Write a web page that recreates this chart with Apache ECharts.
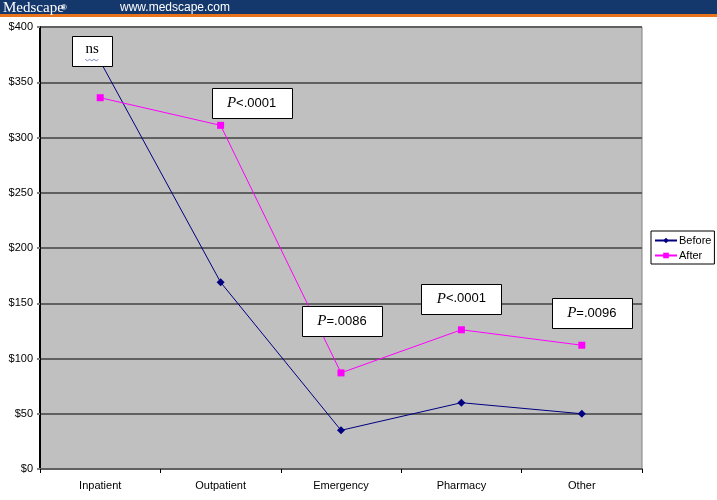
<!DOCTYPE html>
<html><head><meta charset="utf-8">
<script src="https://cdn.jsdelivr.net/npm/echarts@6/dist/echarts.min.js"></script>
<style>html,body{margin:0;padding:0;background:#fff}#c{width:717px;height:500px}</style>
</head><body><div id="c"></div>
<script>
var categories = ['Inpatient', 'Outpatient', 'Emergency', 'Pharmacy', 'Other'];
var beforeValues = [369, 169, 35, 60, 50];
var afterValues = [336, 311, 87, 126, 112];
var yTicks = [0, 50, 100, 150, 200, 250, 300, 350, 400];
// annotation: category index, value at box centre, label parts
var annCategory = [0, 1, 2, 3, 4];
var annValue = [378, 331, 134, 154, 141];
var annItalic = ['', 'P', 'P', 'P', 'P'];
var annRest = ['ns', '<.0001', '=.0086', '<.0001', '=.0096'];

var chart = echarts.init(document.getElementById('c'));
var option = {
  animation: false,
  backgroundColor: '#fff',
  grid: { left: 40, right: 75, top: 27, bottom: 31, show: true, backgroundColor: '#C0C0C0', borderColor: '#808080', borderWidth: 1 },
  xAxis: {
    type: 'category', data: categories, boundaryGap: true,
    axisLine: { lineStyle: { color: '#606060', width: 2 } },
    axisTick: { show: true, length: 4, inside: false, lineStyle: { color: '#000' } },
    axisLabel: { color: '#000', fontFamily: 'Liberation Sans', fontSize: 11, margin: 11 },
    splitLine: { show: false }
  },
  yAxis: {
    type: 'value', min: yTicks[0], max: yTicks[yTicks.length - 1], interval: 50,
    axisLine: { show: true, lineStyle: { color: '#000', width: 2 } },
    axisTick: { show: true, length: 3, lineStyle: { color: '#808080', width: 2 } },
    axisLabel: { color: '#000', fontFamily: 'Liberation Sans', fontSize: 11, margin: 7, formatter: function (v) { return '$' + v; } },
    splitLine: { show: true, lineStyle: { color: '#606060', width: 2 } }
  },
  legend: {
    orient: 'vertical', left: 651, top: 231,
    padding: [4, 3, 3, 3], itemGap: 4, itemWidth: 22, itemHeight: 7,
    borderColor: '#000', borderWidth: 1, backgroundColor: '#fff',
    textStyle: { color: '#000', fontFamily: 'Liberation Sans', fontSize: 11, padding: [0, 0, 0, -3] },
    data: ['Before', 'After']
  },
  series: [
    { name: 'Before', type: 'line', data: beforeValues, symbol: 'diamond', symbolSize: 8,
      lineStyle: { color: '#000080', width: 1 }, itemStyle: { color: '#000080' }, z: 3 },
    { name: 'After', type: 'line', data: afterValues, symbol: 'rect', symbolSize: 7,
      lineStyle: { color: '#FF00FF', width: 1 }, itemStyle: { color: '#FF00FF' }, z: 3 }
  ]
};
chart.setOption(option);

var graphics = [
  { type: 'rect', shape: { x: 0, y: 0, width: 717, height: 15 }, style: { fill: '#14386B' }, z: 10 },
  { type: 'rect', shape: { x: 0, y: 14, width: 717, height: 3 }, style: { fill: '#E8731A' }, z: 10 },
  { type: 'text', x: 3, y: 1, style: { text: 'Medscape', fill: '#fff', font: '15px "Liberation Serif"' }, z: 11 },
  { type: 'text', x: 61, y: 4, style: { text: '®', fill: '#fff', font: 'bold 8px "Liberation Sans"' }, z: 11 },
  { type: 'text', x: 120, y: 2, style: { text: 'www.medscape.com', fill: '#fff', font: '12px "Liberation Sans"' }, z: 11 }
];
var offsets = [-8, 31, 1, 0, 10];
for (var i = 0; i < annRest.length; i++) {
  var p = chart.convertToPixel({ gridIndex: 0 }, [annCategory[i], annValue[i]]);
  var w = annItalic[i] ? 80 : 40, h = 30;
  var cx = p[0] + offsets[i], cy = p[1];
  graphics.push({ type: 'rect', shape: { x: Math.round(cx - w / 2) + 0.5, y: Math.round(cy - h / 2) + 0.5, width: w, height: h },
    style: { fill: '#fff', stroke: '#000', lineWidth: 1 }, z: 20 });
  if (annItalic[i]) {
    graphics.push({ type: 'text', x: cx, y: cy, z: 21,
      style: { text: '{i|P}{r|' + annRest[i] + '}', align: 'center', verticalAlign: 'middle',
        rich: { i: { font: 'italic 15px "Liberation Serif"', fill: '#000' }, r: { font: '13px "Liberation Sans"', fill: '#000' } } } });
  } else {
    graphics.push({ type: 'text', x: cx, y: cy - 2, z: 21,
      style: { text: annRest[i], align: 'center', verticalAlign: 'middle', font: '15px "Liberation Serif"', fill: '#000' } });
    var pts = [];
    for (var k = 0; k < 7; k++) pts.push([cx - 7 + k * 2.2, cy + 8 + (k % 2 ? 1.5 : 0)]);
    graphics.push({ type: 'polyline', shape: { points: pts }, style: { stroke: '#6070a0', lineWidth: 0.8, fill: null }, z: 21 });
  }
}
chart.setOption({ graphic: graphics });
</script></body></html>
